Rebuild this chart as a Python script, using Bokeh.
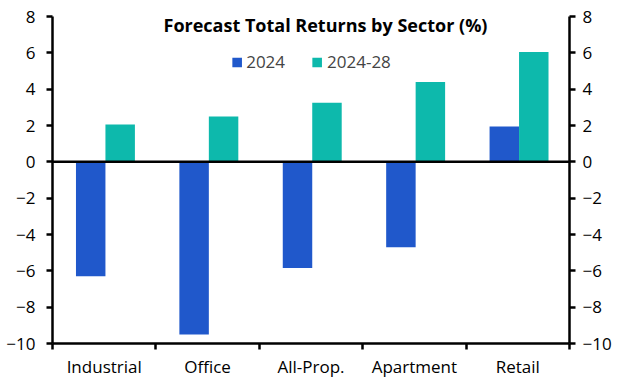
from bokeh.plotting import figure
from bokeh.models import (Range1d, LinearAxis, FixedTicker, Span, Label, Legend,
                          LegendItem, ColumnDataSource)
from bokeh.embed import file_html
from bokeh.resources import INLINE

categories = ["Industrial", "Office", "All-Prop.", "Apartment", "Retail"]
series_names = ["2024", "2024-28"]
ret_2024 = [-6.3, -9.5, -5.85, -4.7, 1.95]
ret_2024_28 = [2.05, 2.5, 3.25, 4.4, 6.05]
y_ticks = [-10, -8, -6, -4, -2, 0, 2, 4, 6, 8]
title_text = "Forecast Total Returns by Sector (%)"

BLUE = "#2058CB"
TEAL = "#0DB9AC"
FONT = "Open Sans"
BAR_W = 0.285

centers = [i + 0.5 for i in range(len(categories))]
src = ColumnDataSource(dict(
    x1=[c - BAR_W / 2 + 0.012 for c in centers],
    x2=[c + BAR_W / 2 + 0.012 for c in centers],
    a=ret_2024, b=ret_2024_28))

p = figure(width=628, height=383, output_backend="svg", toolbar_location=None,
           x_range=Range1d(0, len(categories)), y_range=Range1d(-10, 8),
           x_axis_type=None, y_axis_type=None,
           min_border_left=52, min_border_right=59, min_border_top=16, min_border_bottom=40)
p.outline_line_color = None
p.grid.visible = False
p.background_fill_color = "white"
p.border_fill_color = "white"

r1 = p.vbar(x="x1", top="a", bottom=0, width=BAR_W, source=src, fill_color=BLUE, line_color=None)
r2 = p.vbar(x="x2", top="b", bottom=0, width=BAR_W, source=src, fill_color=TEAL, line_color=None)

p.add_layout(Span(location=0, dimension="width", line_color="black", line_width=2.5))

def style_axis(ax):
    ax.axis_line_width = 2.5
    ax.axis_line_color = "black"
    ax.major_tick_line_width = 2.5
    ax.major_tick_line_color = "black"
    ax.minor_tick_line_width = 2.5
    ax.minor_tick_line_color = "black"
    ax.major_label_text_font = FONT
    ax.major_label_text_font_size = "17px"
    ax.major_label_text_color = "black"

yl = LinearAxis(ticker=FixedTicker(ticks=y_ticks))
yr = LinearAxis(ticker=FixedTicker(ticks=y_ticks))
for ax in (yl, yr):
    style_axis(ax)
    ax.major_tick_in = 0
    ax.major_tick_out = 6
    ax.minor_tick_out = 0
    ax.minor_tick_in = 0
yl.major_label_standoff = 11
yr.major_label_standoff = 7
p.add_layout(yl, "left")
p.add_layout(yr, "right")

xb = LinearAxis(ticker=FixedTicker(ticks=centers, minor_ticks=list(range(len(categories) + 1))))
style_axis(xb)
xb.major_tick_in = 0
xb.major_tick_out = 0
xb.minor_tick_in = 0
xb.minor_tick_out = 6
xb.major_label_standoff = 5
xb.major_label_overrides = {c: name for c, name in zip(centers, categories)}
p.add_layout(xb, "below")

p.add_layout(Label(x=2.64, y=7.55, text=title_text, text_font=FONT, text_font_style="bold",
                   text_font_size="18px", text_align="center", text_baseline="middle",
                   text_color="black"))

legend = Legend(items=[LegendItem(label=series_names[0], renderers=[r1]),
                       LegendItem(label=series_names[1], renderers=[r2])],
                orientation="horizontal", location="top_center",
                border_line_color=None, background_fill_alpha=0,
                label_text_font=FONT, label_text_font_size="17px",
                glyph_width=12, glyph_height=12, label_standoff=4, spacing=26,
                padding=0, margin=34)
p.add_layout(legend, "center")

open("out.html", "w").write(file_html(p, INLINE))
